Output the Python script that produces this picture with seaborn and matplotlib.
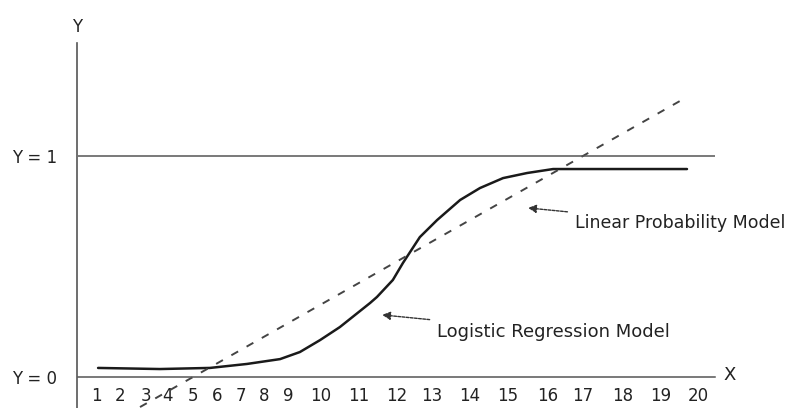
import matplotlib
matplotlib.use("Agg")
import matplotlib.pyplot as plt
import seaborn as sns

# x positions of the hand-placed tick labels (label 5 -> 5, label 17 -> 17)
tick_labels = [str(i) for i in range(1, 21)]
tick_pos = [2.02, 2.75, 3.55, 4.23, 5.0, 5.74, 6.48, 7.18, 7.92, 8.94,
            10.11, 11.28, 12.35, 13.52, 14.69, 15.92, 17.0, 18.23, 19.40, 20.54]

# logistic regression curve
logit_x = [2.08, 3.98, 5.52, 6.66, 7.68, 8.29, 8.91, 9.52, 10.45, 10.66, 11.15,
           11.46, 11.98, 12.51, 13.22, 13.83, 14.54, 15.28, 16.08, 20.2]
logit_y = [0.041, 0.036, 0.041, 0.059, 0.081, 0.113, 0.167, 0.226, 0.335, 0.362, 0.439,
           0.516, 0.633, 0.710, 0.801, 0.855, 0.900, 0.923, 0.941, 0.941]

# linear probability model (straight line)
lpm_x = [3.37, 20.14]
lpm_y = [-0.136, 1.262]

sns.set_style("white")
plt.rcParams["font.family"] = ["DejaVu Sans"]
ink = "#222222"

fig = plt.figure(figsize=(7.96, 4.08), dpi=100)
ax = fig.add_axes([0, 0, 1, 1])
ax.set_xlim(-0.938, 23.554)
ax.set_ylim(-0.1403, 1.7059)

x0, x1 = 1.43, 21.06

sns.lineplot(x=logit_x, y=logit_y, ax=ax, color="#1a1a1a", lw=1.8,
             estimator=None, sort=False)
ax.lines[-1].set_solid_joinstyle("round")
sns.lineplot(x=lpm_x, y=lpm_y, ax=ax, color="#444444", lw=1.4,
             estimator=None, sort=False)
ax.lines[-1].set_dashes((4, 5))

# Y = 1 reference line
ax.hlines(1, x0 + 0.03, x1, color="#555555", lw=1.1)

# axes drawn as spines
for s in ["top", "right"]:
    ax.spines[s].set_visible(False)
ax.spines["left"].set_position(("data", x0))
ax.spines["left"].set_bounds(-0.1403, 1.511)
ax.spines["left"].set_color("#555555")
ax.spines["left"].set_linewidth(1.2)
ax.spines["bottom"].set_position(("data", 0))
ax.spines["bottom"].set_bounds(x0 + 0.03, x1)
ax.spines["bottom"].set_color("#555555")
ax.spines["bottom"].set_linewidth(1.1)

ax.set_xticks(tick_pos, tick_labels)
ax.set_yticks([0, 1], ["Y = 0", "Y = 1"])
ax.tick_params(axis="x", length=0, pad=7, labelsize=12, labelcolor=ink)
ax.tick_params(axis="y", length=0, pad=14, labelsize=12, labelcolor=ink)

ax.text(x0, 1.584, "Y", ha="center", va="center", fontsize=12, color=ink)
ax.text(21.52, 0.009, "X", ha="center", va="center", fontsize=13, color=ink)

arrow = dict(arrowstyle="-|>", color="#333333", lw=1.0, linestyle=(0, (2, 1)),
             mutation_scale=12, shrinkA=3, shrinkB=0)
ax.annotate("Logistic Regression Model", xy=(10.82, 0.281), xytext=(12.51, 0.204),
            ha="left", va="center", fontsize=13, color=ink, arrowprops=arrow)
ax.annotate("Linear Probability Model", xy=(15.31, 0.765), xytext=(16.75, 0.697),
            ha="left", va="center", fontsize=12.5, color=ink, arrowprops=arrow)

fig.savefig("out.png", dpi=100)
